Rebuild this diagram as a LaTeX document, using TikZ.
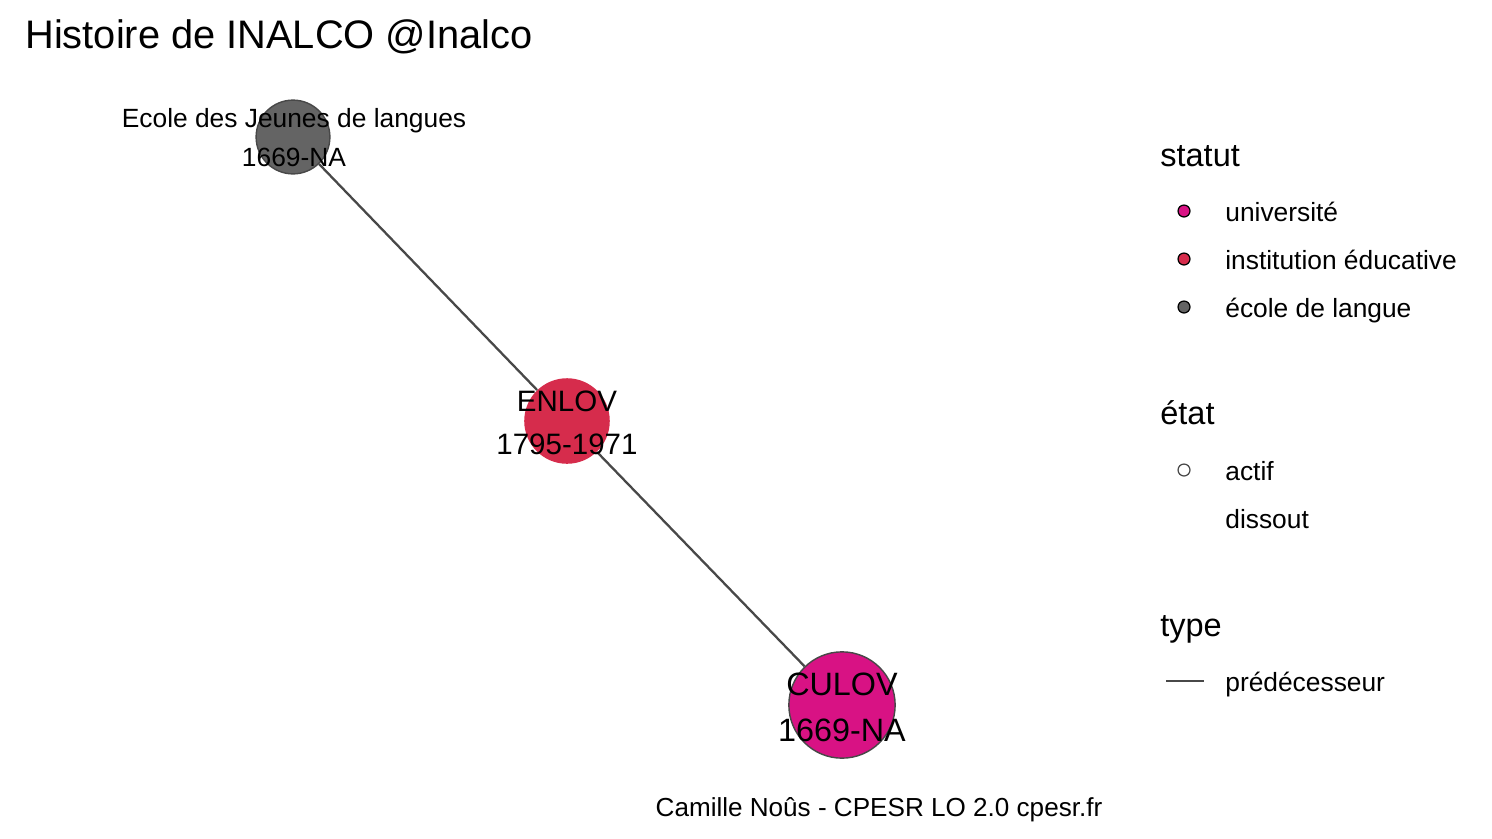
\documentclass[tikz,border=0pt]{standalone}
\usepackage{fontspec}
\setmainfont{Liberation Sans}
\usetikzlibrary{positioning}

\definecolor{univcol}{HTML}{D81284}
\definecolor{instcol}{HTML}{D62C4C}
\definecolor{langcol}{HTML}{646464}
\definecolor{edgecol}{HTML}{484848}

\begin{document}
\begin{tikzpicture}[
    x=0.02cm,
    y=-0.02cm,
    org/.style={circle, inner sep=0pt},
    actif/.style={draw=edgecol, line width=0.8pt},
    pred/.style={edgecol, line width=1.3pt},
    lab/.style={anchor=base, inner sep=0pt},
    key/.style={circle, inner sep=0pt, minimum size=6.8pt, line width=0.7pt},
    keytext/.style={anchor=base west, inner sep=0pt, font=\fontsize{15}{18}\selectfont},
    keyhead/.style={anchor=base west, inner sep=0pt, font=\fontsize{18.5}{22}\selectfont},
]
    \useasboundingbox (0,0) rectangle (1492,839);

    \node[anchor=base west, inner sep=0pt, font=\fontsize{22.65}{27}\selectfont] (titre) at (25,48) {Histoire de INALCO @Inalco};

    \node[org, actif, fill=langcol, minimum size=42pt] (ecole) at (293,137) {};
    \node[org,        fill=instcol, minimum size=48.7pt] (enlov) at (567,421) {};
    \node[org, actif, fill=univcol, minimum size=60.5pt] (culov) at (842,705) {};

    \path
        (ecole) edge [pred] (enlov)
        (enlov) edge [pred] (culov)
    ;

    \node[lab, font=\fontsize{15}{18}\selectfont]   (ecoleA) at (294,127) {Ecole des Jeunes de langues};
    \node[lab, font=\fontsize{15}{18}\selectfont]   (ecoleB) at (294,166) {1669-NA};
    \node[lab, font=\fontsize{16.8}{20}\selectfont] (enlovA) at (567,411) {ENLOV};
    \node[lab, font=\fontsize{16.8}{20}\selectfont] (enlovB) at (567,454) {1795-1971};
    \node[lab, font=\fontsize{18.4}{22}\selectfont] (culovA) at (842,695) {CULOV};
    \node[lab, font=\fontsize{18.4}{22}\selectfont] (culovB) at (842,741) {1669-NA};

    % legende
    \node[keyhead] (statut) at (1160,166) {statut};
    \node[key, fill=univcol, draw=black] (kuniv) at (1184,211) {};
    \node[keytext] (tuniv) at (1225,221) {université};
    \node[key, fill=instcol, draw=black] (kinst) at (1184,259) {};
    \node[keytext] (tinst) at (1225,269) {institution éducative};
    \node[key, fill=langcol, draw=black] (klang) at (1184,307) {};
    \node[keytext] (tlang) at (1225,317) {école de langue};

    \node[keyhead] (etat) at (1160,424) {état};
    \node[key, fill=white, draw=edgecol] (kactif) at (1184,470) {};
    \node[keytext] (tactif) at (1225,480) {actif};
    \node[keytext] (tdiss) at (1225,528) {dissout};

    \node[keyhead] (type) at (1160,636) {type};
    \coordinate (kpredA) at (1166,681);
    \coordinate (kpredB) at (1204,681);
    \draw[pred] (kpredA) -- (kpredB);
    \node[keytext] (tpred) at (1225,691) {prédécesseur};

    \node[lab, font=\fontsize{14.85}{18}\selectfont] (credit) at (879,816) {Camille Noûs - CPESR LO 2.0 cpesr.fr};
\end{tikzpicture}
\end{document}
